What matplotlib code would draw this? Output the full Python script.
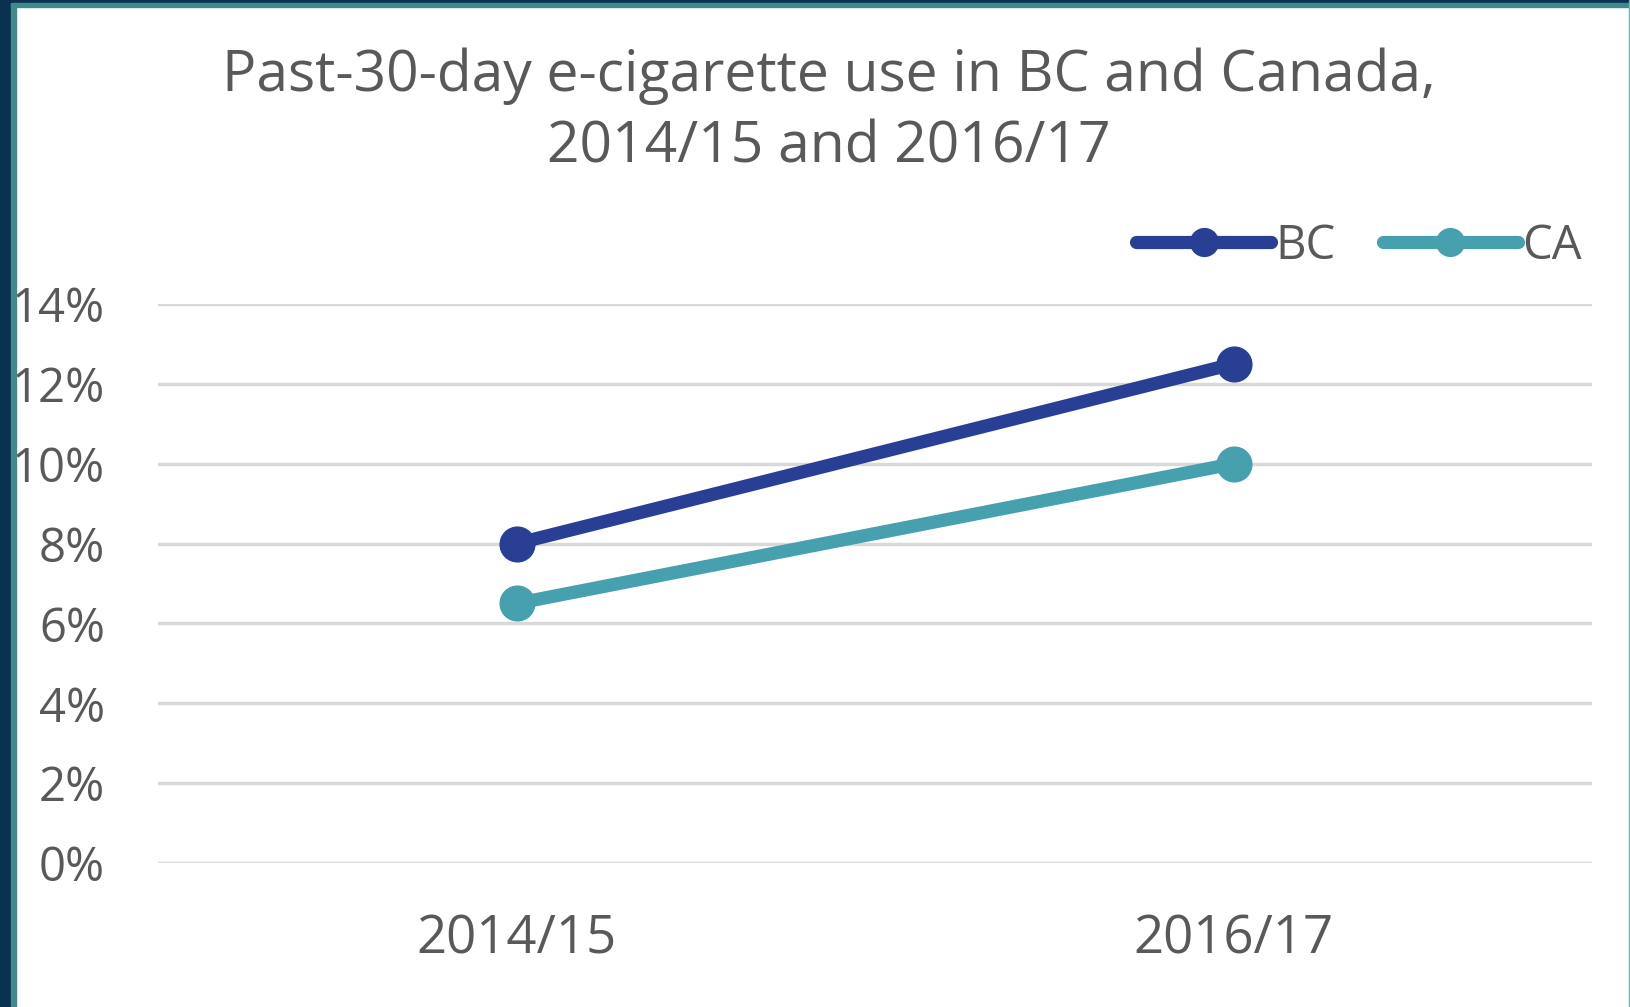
import matplotlib
matplotlib.use("Agg")
import matplotlib.pyplot as plt
from matplotlib.patches import Rectangle

plt.rcParams['font.family'] = ['Open Sans', 'DejaVu Sans']

# survey periods and past-30-day use (%)
periods = ['2014/15', '2016/17']
bc_values = [8.0, 12.5]
ca_values = [6.5, 10.0]
y_ticks = [0, 2, 4, 6, 8, 10, 12, 14]

BC_COLOR = '#283F93'
CA_COLOR = '#47A0AD'
TEXT_GRAY = '#595959'

W, H = 1631, 1007
fig = plt.figure(figsize=(W / 100, H / 100), dpi=100)
fig.patch.set_facecolor('white')

# frame: dark band on the left/top with a thin teal inner line
frame = [
    (0, 0, 11, H, '#0A3150'),
    (11, 0, 5, H - 3, '#3E8A8C'),
    (0, H - 3, W, 3, '#0A3150'),
    (11, H - 7, W - 11, 4, '#3E8A8C'),
    (W - 2, 0, 2, H, '#6FB0B0'),
]
for x0, y0, w, h, c in frame:
    fig.patches.append(Rectangle((x0 / W, y0 / H), w / W, h / H,
                                 transform=fig.transFigure, color=c, zorder=0))

ax = fig.add_axes([158 / W, 1 - 863 / H, (1592 - 158) / W, (863 - 304) / H])
x = range(len(periods))
ax.plot(x, bc_values, color=BC_COLOR, lw=9.5, marker='o', ms=25,
        solid_capstyle='round', label='BC', zorder=3)
ax.plot(x, ca_values, color=CA_COLOR, lw=9.5, marker='o', ms=25,
        solid_capstyle='round', label='CA', zorder=3)

ax.set_xlim(-0.5, 1.5)
ax.set_ylim(0, 14)
ax.set_yticks(y_ticks)
ax.set_yticklabels([f'{t}%' for t in y_ticks])
ax.set_xticks(list(x))
ax.set_xticklabels(periods)
ax.tick_params(axis='y', length=0, pad=38, labelsize=34, labelcolor=TEXT_GRAY)
ax.tick_params(axis='x', length=0, pad=36, labelsize=38, labelcolor=TEXT_GRAY)
ax.grid(axis='y', color='#D9D9D9', lw=2.5)
ax.set_axisbelow(True)
for s in ax.spines.values():
    s.set_visible(False)

fig.text(829 / W, 1 - 112 / H,
         'Past-30-day e-cigarette use in BC and Canada,\n2014/15 and 2016/17',
         ha='center', va='center', fontsize=41, color=TEXT_GRAY, linespacing=1.35)

ax.legend(loc='lower right', bbox_to_anchor=(1582 / W, 1 - 270 / H),
          bbox_transform=fig.transFigure, ncol=2, frameon=False,
          fontsize=34, labelcolor=TEXT_GRAY, handlelength=2.85,
          handletextpad=0.1, columnspacing=1.0, markerscale=0.8,
          borderaxespad=0, borderpad=0)

fig.savefig('out.png', dpi=100)
